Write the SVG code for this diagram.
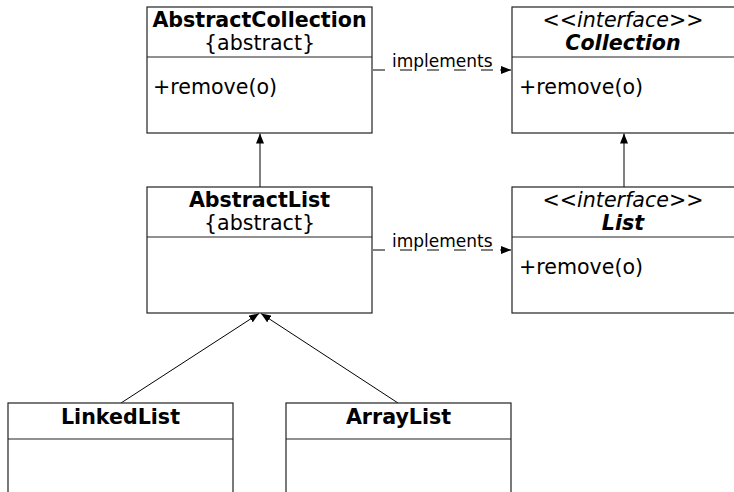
<svg xmlns="http://www.w3.org/2000/svg" width="734" height="492" viewBox="0 0 734 492">
<defs>
<marker id="arr" viewBox="0 0 10 8" refX="10" refY="4" markerWidth="10" markerHeight="8" markerUnits="userSpaceOnUse" orient="auto">
<path d="M0,0 L10,4 L0,8 Z" fill="#000"/>
</marker>
</defs>
<style>
.box{fill:#fff;stroke:#222;stroke-width:1.2}
.t{font-family:"DejaVu Sans",sans-serif;font-size:20.6px;fill:#000}
.b{font-weight:bold}
.i{font-style:italic}
.c{text-anchor:middle}
.lbl{font-family:"DejaVu Sans",sans-serif;font-size:17px;fill:#000}
.ln{stroke:#000;stroke-width:1;fill:none}
.dash{stroke:#000;stroke-width:1;fill:none;stroke-dasharray:12,15}
</style>
<rect width="734" height="492" fill="#fff"/>
<g id="connectors">
<line class="ln" x1="260" y1="187" x2="260" y2="133.5" marker-end="url(#arr)"/>
<line class="ln" x1="624" y1="187" x2="624" y2="133.5" marker-end="url(#arr)"/>
<line class="dash" x1="373" y1="70" x2="502" y2="70"/>
<line class="ln" x1="500" y1="70" x2="511" y2="70" marker-end="url(#arr)"/>
<text class="lbl" x="392" y="67">implements</text>
<line class="dash" x1="373" y1="250" x2="502" y2="250"/>
<line class="ln" x1="500" y1="250" x2="511" y2="250" marker-end="url(#arr)"/>
<text class="lbl" x="392" y="247">implements</text>
<line class="ln" x1="121" y1="403" x2="259" y2="313.5" marker-end="url(#arr)"/>
<line class="ln" x1="398" y1="403" x2="261" y2="313.5" marker-end="url(#arr)"/>
</g>
<g id="AbstractCollection">
<rect class="box" x="147" y="7" width="225" height="126"/>
<line class="box" x1="147" y1="57" x2="372" y2="57"/>
<text class="t b c" x="259.5" y="27">AbstractCollection</text>
<text class="t c" x="259.5" y="50">{abstract}</text>
<text class="t" x="153" y="94">+remove(o)</text>
</g>
<g id="Collection">
<rect class="box" x="512" y="7" width="226" height="126"/>
<line class="box" x1="512" y1="57" x2="738" y2="57"/>
<text class="t i c" x="623" y="27">&lt;&lt;interface&gt;&gt;</text>
<text class="t b i c" x="623" y="50">Collection</text>
<text class="t" x="519" y="94">+remove(o)</text>
</g>
<g id="AbstractList">
<rect class="box" x="147" y="187" width="225" height="126"/>
<line class="box" x1="147" y1="237" x2="372" y2="237"/>
<text class="t b c" x="259.5" y="207">AbstractList</text>
<text class="t c" x="259.5" y="230">{abstract}</text>
</g>
<g id="List">
<rect class="box" x="512" y="187" width="226" height="126"/>
<line class="box" x1="512" y1="237" x2="738" y2="237"/>
<text class="t i c" x="623" y="207">&lt;&lt;interface&gt;&gt;</text>
<text class="t b i c" x="623" y="230">List</text>
<text class="t" x="519" y="274">+remove(o)</text>
</g>
<g id="LinkedList">
<rect class="box" x="8" y="403" width="225" height="100"/>
<line class="box" x1="8" y1="439" x2="233" y2="439"/>
<text class="t b c" x="120.5" y="424">LinkedList</text>
</g>
<g id="ArrayList">
<rect class="box" x="286" y="403" width="225" height="100"/>
<line class="box" x1="286" y1="439" x2="511" y2="439"/>
<text class="t b c" x="398.5" y="424">ArrayList</text>
</g>
</svg>
